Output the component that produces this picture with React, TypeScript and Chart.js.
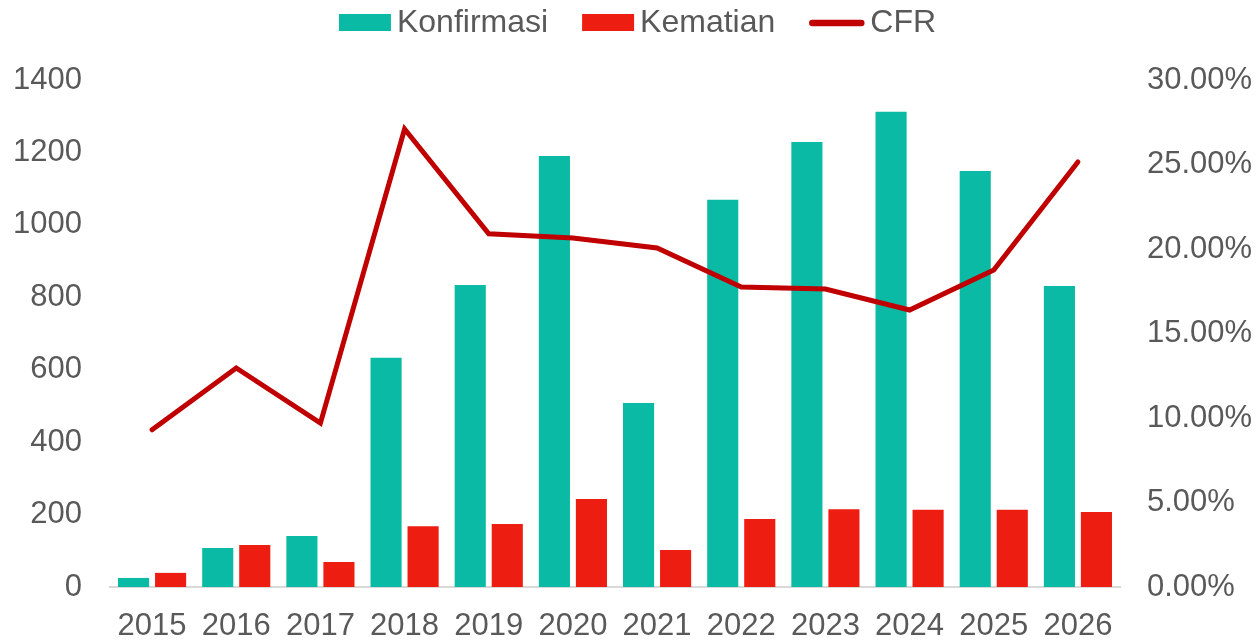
import React, { useEffect, useRef } from "react";
import { Chart, registerables } from "chart.js";

Chart.register(...registerables);

const years = ["2015", "2016", "2017", "2018", "2019", "2020", "2021", "2022", "2023", "2024", "2025", "2026"];
const konfirmasi = [25, 108, 141, 633, 834, 1190, 508, 1069, 1229, 1312, 1149, 831];
const kematian = [39, 116, 69, 168, 174, 243, 102, 188, 215, 213, 213, 207];
const cfr = [0.093, 0.1296, 0.097, 0.271, 0.209, 0.2065, 0.2006, 0.1775, 0.1763, 0.1639, 0.1876, 0.2515];

const TEAL = "#0ABAA5";
const RED = "#EE1D11";
const DARKRED = "#C00000";
const GREY = "#595959";
const FONT = "Arial, 'Liberation Sans', sans-serif";

const customLegend = {
  id: "customLegend",
  afterDraw(chart: any) {
    const ctx = chart.ctx as CanvasRenderingContext2D;
    const fontSize = 32;
    const symW = [52, 52, 55];
    const symGap = 6;
    const itemGap = 34;
    const cy = 22;
    ctx.save();
    ctx.font = `${fontSize}px ${FONT}`;
    ctx.textBaseline = "middle";
    ctx.textAlign = "left";
    const ds = chart.data.datasets;
    const widths = ds.map((d: any, i: number) => symW[i] + symGap + ctx.measureText(d.label).width);
    const total = widths.reduce((a: number, b: number) => a + b, 0) + itemGap * (ds.length - 1);
    let x = chart.width / 2 + 8 - total / 2;
    ds.forEach((d: any, i: number) => {
      if (d.type === "line") {
        ctx.strokeStyle = d.borderColor;
        ctx.lineWidth = 6.5;
        ctx.lineCap = "round";
        ctx.beginPath();
        ctx.moveTo(x + 3, cy + 1);
        ctx.lineTo(x + symW[i] - 3, cy + 1);
        ctx.stroke();
      } else {
        ctx.fillStyle = d.backgroundColor;
        ctx.fillRect(x, cy - 8, symW[i], 17);
      }
      ctx.fillStyle = GREY;
      ctx.fillText(d.label, x + symW[i] + symGap, cy + 1);
      x += widths[i] + itemGap;
    });
    ctx.restore();
  },
};

export default function App() {
  const ref = useRef<HTMLCanvasElement | null>(null);
  useEffect(() => {
    document.body.style.margin = "0";
    const ctx = ref.current!;
    const chart = new Chart(ctx, {
      type: "bar",
      data: {
        labels: years,
        datasets: [
          {
            label: "Konfirmasi",
            data: konfirmasi,
            backgroundColor: TEAL,
            yAxisID: "y",
            categoryPercentage: 0.88,
            barPercentage: 0.84,
            order: 2,
          },
          {
            label: "Kematian",
            data: kematian,
            backgroundColor: RED,
            yAxisID: "y",
            categoryPercentage: 0.88,
            barPercentage: 0.84,
            order: 2,
          },
          {
            type: "line",
            label: "CFR",
            data: cfr,
            borderColor: DARKRED,
            backgroundColor: DARKRED,
            borderWidth: 5,
            tension: 0,
            pointRadius: 0,
            borderCapStyle: "round",
            borderJoinStyle: "miter",
            yAxisID: "y1",
            order: 1,
          } as any,
        ],
      },
      options: {
        responsive: true,
        maintainAspectRatio: false,
        animation: false,
        layout: { padding: { left: 0, right: 0, top: 80, bottom: 0 } },
        plugins: {
          tooltip: { enabled: false },
          legend: { display: false },
        },
        scales: {
          x: {
            grid: { display: false, drawTicks: false },
            border: { display: true, color: "#D9D9D9", width: 2 },
            ticks: { color: GREY, font: { family: FONT, size: 31 }, padding: 21 },
            afterFit: (axis: any) => {
              axis.height = 53;
            },
          },
          y: {
            position: "left",
            min: 0,
            max: 1400,
            grid: { display: false, drawTicks: false },
            border: { display: false },
            ticks: {
              stepSize: 200,
              color: GREY,
              font: { family: FONT, size: 31 },
              padding: 28,
              callback: (v: any) => String(v),
            },
            afterFit: (axis: any) => {
              axis.width = 110;
            },
          },
          y1: {
            position: "right",
            min: 0,
            max: 0.3,
            grid: { display: false, drawTicks: false },
            border: { display: false },
            ticks: {
              stepSize: 0.05,
              color: GREY,
              font: { family: FONT, size: 31 },
              padding: 27,
              callback: (v: any) => (Number(v) * 100).toFixed(2) + "%",
            },
            afterFit: (axis: any) => {
              axis.width = 139;
            },
          },
        },
      } as any,
      plugins: [customLegend],
    });
    return () => chart.destroy();
  }, []);
  return (
    <div style={{ position: "fixed", left: 0, top: 0, width: 1259, height: 640 }}>
      <canvas ref={ref} />
    </div>
  );
}
